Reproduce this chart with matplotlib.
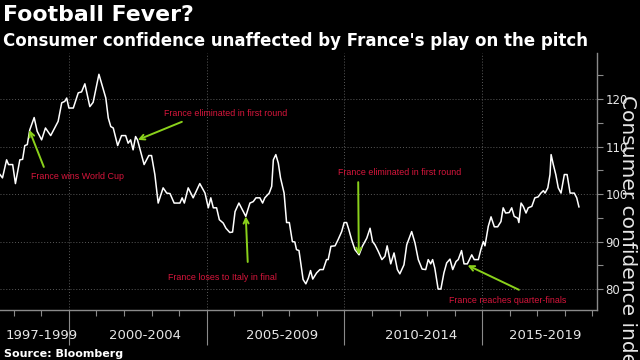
import matplotlib
matplotlib.use('Agg')
import matplotlib.pyplot as plt
from matplotlib.ticker import MultipleLocator, FixedLocator, NullFormatter

# French consumer confidence index (decimal year, value)
years = [1997.50, 1997.59, 1997.74, 1997.81, 1997.96, 1998.06, 1998.22, 1998.32, 1998.40, 1998.49,
         1998.58, 1998.74, 1998.85, 1999.01, 1999.15, 1999.34, 1999.61, 1999.74, 1999.85, 1999.92,
         2000.00, 2000.16, 2000.34, 2000.46, 2000.58, 2000.76, 2000.88, 2001.09, 2001.25, 2001.34,
         2001.43, 2001.52, 2001.61, 2001.77, 2001.91, 2002.06, 2002.15, 2002.24, 2002.33, 2002.42,
         2002.49, 2002.73, 2002.90, 2003.00, 2003.12, 2003.24, 2003.42, 2003.55, 2003.67, 2003.82,
         2004.03, 2004.11, 2004.19, 2004.33, 2004.51, 2004.75, 2004.94, 2005.06, 2005.15, 2005.24,
         2005.36, 2005.46, 2005.60, 2005.70, 2005.84, 2005.94, 2006.03, 2006.17, 2006.42, 2006.57,
         2006.69, 2006.79, 2006.93, 2007.03, 2007.11, 2007.27, 2007.36, 2007.42, 2007.51, 2007.60,
         2007.68, 2007.81, 2007.90, 2008.00, 2008.11, 2008.20, 2008.26, 2008.35, 2008.50, 2008.60,
         2008.69, 2008.77, 2008.85, 2008.99, 2009.11, 2009.23, 2009.35, 2009.41, 2009.51, 2009.66,
         2009.77, 2009.90, 2009.99, 2010.08, 2010.16, 2010.26, 2010.38, 2010.53, 2010.65, 2010.81,
         2010.93, 2011.02, 2011.11, 2011.23, 2011.36, 2011.47, 2011.55, 2011.68, 2011.80, 2011.92,
         2012.01, 2012.16, 2012.26, 2012.44, 2012.56, 2012.68, 2012.82, 2012.95, 2013.04, 2013.13,
         2013.20, 2013.28, 2013.40, 2013.50, 2013.61, 2013.71, 2013.83, 2013.93, 2014.05, 2014.13,
         2014.25, 2014.34, 2014.46, 2014.62, 2014.71, 2014.86, 2014.95, 2015.04, 2015.10, 2015.22,
         2015.32, 2015.44, 2015.56, 2015.68, 2015.76, 2015.85, 2015.98, 2016.07, 2016.16, 2016.29,
         2016.33, 2016.41, 2016.49, 2016.59, 2016.67, 2016.80, 2016.91, 2017.03, 2017.13, 2017.22,
         2017.28, 2017.38, 2017.46, 2017.50, 2017.58, 2017.67, 2017.76, 2017.86, 2017.98, 2018.08,
         2018.19, 2018.34, 2018.43, 2018.51]
index = [104.1, 103.4, 107.2, 106.2, 106.2, 102.2, 107.2, 107.3, 110.2, 110.4,
         113.5, 116.1, 113.2, 111.4, 113.9, 112.3, 115.3, 119.2, 119.5, 120.2,
         118.1, 118.1, 121.3, 121.5, 123.2, 118.4, 119.3, 125.2, 122.0, 120.2,
         116.0, 114.2, 113.9, 110.2, 112.3, 112.3, 110.7, 111.4, 109.3, 112.1,
         111.4, 106.2, 108.1, 108.1, 104.1, 98.1, 101.3, 100.2, 100.1, 98.1,
         98.1, 99.2, 98.1, 101.3, 99.2, 102.2, 100.2, 97.1, 99.2, 97.1,
         97.1, 94.6, 93.9, 92.8, 91.9, 92.0, 96.3, 98.1, 95.3, 98.1,
         98.4, 99.2, 99.2, 98.1, 99.2, 100.2, 101.6, 107.2, 108.3, 106.5,
         103.4, 100.2, 94.0, 94.0, 90.0, 89.9, 88.3, 88.1, 82.0, 81.1,
         82.3, 83.9, 82.1, 83.4, 84.1, 84.1, 86.2, 86.2, 89.0, 89.1,
         90.4, 92.1, 94.0, 94.0, 92.5, 90.4, 88.3, 87.2, 89.0, 90.7,
         92.8, 90.0, 89.3, 87.9, 86.2, 86.9, 89.1, 85.3, 87.6, 84.1,
         83.2, 85.1, 89.3, 92.1, 89.7, 86.2, 84.2, 84.1, 86.2, 85.3,
         86.2, 84.4, 80.0, 80.0, 83.4, 85.5, 86.3, 84.1, 85.8, 86.2,
         88.1, 85.3, 85.3, 87.2, 86.2, 86.2, 88.3, 90.0, 89.1, 93.2,
         95.2, 93.1, 93.1, 94.2, 97.1, 96.0, 96.1, 97.1, 95.3, 94.9,
         94.0, 98.1, 97.4, 96.0, 97.1, 97.4, 99.2, 99.4, 100.2, 100.7,
         100.2, 101.3, 104.1, 108.3, 106.2, 104.1, 101.3, 100.2, 104.1, 104.1,
         100.2, 100.2, 99.2, 97.3]

periods = ['1997-1999', '2000-2004', '2005-2009', '2010-2014', '2015-2019']
period_pos = [1999.02, 2002.76, 2007.73, 2012.78, 2017.28]

notes = ['France wins World Cup', 'France eliminated in first round',
         'France loses to Italy in final', 'France eliminated in first round',
         'France reaches quarter-finals']
note_xy = [(2000.31, 103.6), (2005.70, 116.9), (2005.59, 82.4), (2012.01, 104.6), (2015.93, 77.6)]
arrow_tail = [(1999.09, 105.7), (2004.10, 115.2), (2006.49, 85.7), (2010.50, 102.5), (2016.33, 79.85)]
arrow_tip = [(1998.56, 113.5), (2002.50, 111.4), (2006.42, 95.3), (2010.52, 87.2), (2014.47, 85.0)]

grey = '#8a8a8a'
fig = plt.figure(figsize=(6.4, 3.6), dpi=100, facecolor='black')
ax = fig.add_axes([0, 0.139, 0.933, 0.714], facecolor='black')

ax.plot(years, index, color='white', lw=1.1)

ax.set_xlim(1997.5, 2019.17)
ax.set_ylim(75.6, 129.7)

ax.xaxis.set_major_locator(FixedLocator([2000, 2005, 2010, 2015]))
ax.xaxis.set_major_formatter(NullFormatter())
ax.xaxis.set_minor_locator(MultipleLocator(1))
ax.tick_params(axis='x', which='major', length=25, width=0.8, color=grey, direction='out')
ax.tick_params(axis='x', which='minor', length=4, width=0.8, color=grey, direction='out')

ax.yaxis.tick_right()
ax.yaxis.set_major_locator(FixedLocator([80, 90, 100, 110, 120]))
ax.yaxis.set_minor_locator(FixedLocator([85, 95, 105, 115, 125]))
ax.tick_params(axis='y', which='both', length=4, width=0.8, color=grey, direction='out',
               labelcolor='#e6e6e6', labelsize=8.5, pad=2)

ax.grid(True, which='major', color='#5a5a5a', lw=0.7, ls=(0, (1, 2)))

for s in ['top', 'left']:
    ax.spines[s].set_visible(False)
for s in ['bottom', 'right']:
    ax.spines[s].set_color(grey)
    ax.spines[s].set_linewidth(1.0)

for lab, pos in zip(periods, period_pos):
    ax.text(pos, -0.101, lab, transform=ax.get_xaxis_transform(), ha='center', va='center',
            color='#e6e6e6', fontsize=9.5)

for txt, xy, tail, tip in zip(notes, note_xy, arrow_tail, arrow_tip):
    ax.text(xy[0], xy[1], txt, color='#d8163c', fontsize=6.4, ha='center', va='center',
            family=['Liberation Sans', 'DejaVu Sans'])
    ax.annotate('', xy=tip, xytext=tail,
                arrowprops=dict(arrowstyle='->', color='#8ad11b', lw=1.4,
                                shrinkA=0, shrinkB=0, mutation_scale=9))

fig.text(0.981, 0.735, 'Consumer confidence index', rotation=270, ha='center', va='top',
         color='#e6e6e6', fontsize=14.5)

fig.text(0.004, 0.985, 'Football Fever?', color='white', fontsize=15.8, fontweight='bold', va='top')
fig.text(0.004, 0.912, "Consumer confidence unaffected by France's play on the pitch",
         color='white', fontsize=12, fontweight='bold', va='top')
fig.text(0.006, 0.004, 'Source: Bloomberg', color='white', fontsize=8, fontweight='bold',
         va='bottom')

fig.savefig('out.png', dpi=100, facecolor='black')
